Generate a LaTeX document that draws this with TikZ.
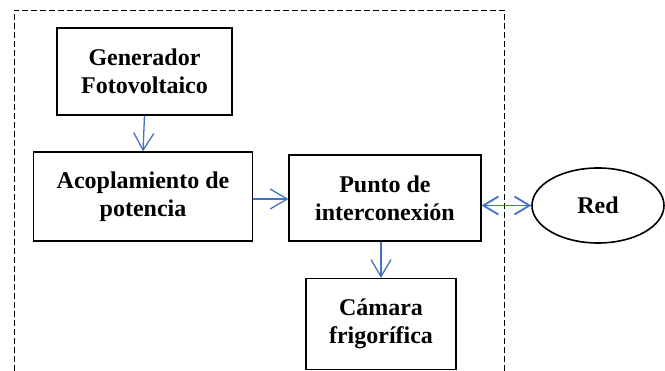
\documentclass[tikz,border=0pt]{standalone}
\usepackage{fontspec}
\setmainfont{Liberation Serif}
\usetikzlibrary{arrows.meta,shapes.geometric}
\definecolor{flecha}{RGB}{68,114,196}
\begin{document}
\begin{tikzpicture}[x=1pt,y=1pt,yscale=-1,xscale=1,
	bloque/.style={draw,line width=1.2pt,align=center,inner sep=0pt,font=\bfseries\fontsize{24}{28}\selectfont},
	enlace/.style={draw=flecha,line width=1.3pt,-{Straight Barb[length=17pt,width=20pt]}}]
	\useasboundingbox (0,0) rectangle (665,371);
	
	%Shape: Open Rectangle (dashed)
	\draw [line width=0.9pt,dash pattern={on 6pt off 3pt}] (14,371) -- (14,10) -- (504,10) -- (504,371);
	
	% Text Node
	\node [bloque,minimum width=175pt,minimum height=87pt] (gen) at (144.5,71.5) {Generador\\Fotovoltaico};
	% Text Node
	\node [bloque,minimum width=219pt,minimum height=89pt] (acop) at (143,196.5) {Acoplamiento de\\potencia};
	% Text Node
	\node [bloque,minimum width=192pt,minimum height=86pt] (punto) at (385,198) {Punto de\\interconexión};
	% Text Node
	\node [bloque,minimum width=150pt,minimum height=91pt] (cam) at (381,324) {Cámara\\frigorífica};
	%Shape: Ellipse
	\node [bloque,ellipse,line width=1.6pt,minimum width=132pt,minimum height=75pt] (red) at (598,205.5) {Red};
	
	% Arrows
	\draw [enlace] (gen.south) -- (acop.north);
	\draw [enlace] (acop.east |- 0,199) -- (punto.west |- 0,199);
	\draw [enlace,line width=1.8pt,{Straight Barb[length=15pt,width=18pt]}-{Straight Barb[length=15pt,width=18pt]}] (red.west -| punto.east) -- (red.west);
	\draw [enlace] (cam.north |- punto.south) -- (cam.north);
	
\end{tikzpicture}
\end{document}
